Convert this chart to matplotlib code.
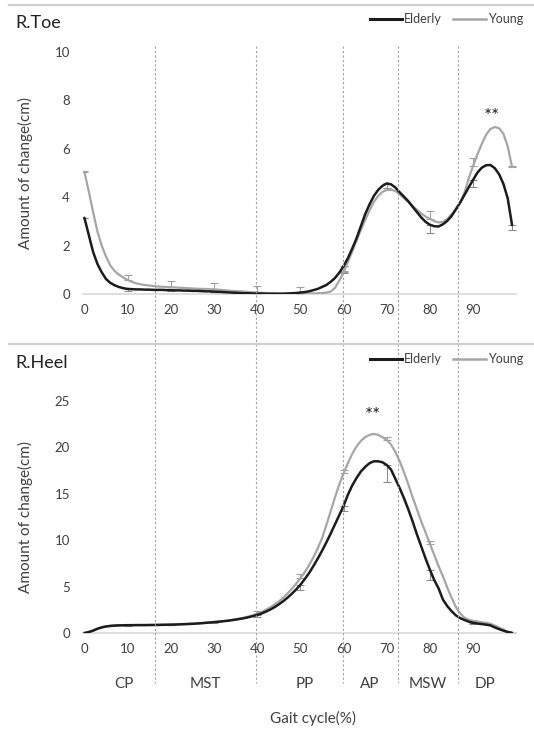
import numpy as np
import matplotlib
matplotlib.use("Agg")
import matplotlib.pyplot as plt
from matplotlib.lines import Line2D
from matplotlib.transforms import blended_transform_factory

plt.rcParams['font.family'] = ['Lato', 'DejaVu Sans']

# ---------------- data ----------------
gait_pct = list(range(100))
x_ticks = [0, 10, 20, 30, 40, 50, 60, 70, 80, 90]

toe_elderly = [
    3.15, 2.45, 1.75, 1.25, 0.90, 0.62, 0.46, 0.36, 0.29, 0.24,
    0.21, 0.20, 0.19, 0.19, 0.18, 0.18, 0.17, 0.17, 0.17, 0.16,
    0.16, 0.15, 0.15, 0.14, 0.14, 0.13, 0.13, 0.12, 0.11, 0.11,
    0.10, 0.09, 0.08, 0.07, 0.06, 0.05, 0.04, 0.03, 0.03, 0.02,
    0.02, 0.02, 0.01, 0.01, 0.01, 0.01, 0.01, 0.02, 0.03, 0.04,
    0.06, 0.08, 0.11, 0.16, 0.21, 0.29, 0.37, 0.50, 0.66, 0.88,
    1.15, 1.48, 1.88, 2.30, 2.80, 3.30, 3.70, 4.05, 4.30, 4.47,
    4.57, 4.53, 4.40, 4.20, 4.02, 3.83, 3.60, 3.38, 3.16, 2.98,
    2.86, 2.80, 2.79, 2.88, 3.02, 3.22, 3.50, 3.78, 4.10, 4.42,
    4.72, 5.02, 5.22, 5.32, 5.33, 5.20, 4.95, 4.55, 3.95, 2.85,
]
toe_young = [
    5.05, 4.25, 3.40, 2.60, 2.00, 1.55, 1.18, 0.95, 0.80, 0.68,
    0.58, 0.50, 0.44, 0.40, 0.37, 0.35, 0.33, 0.31, 0.30, 0.29,
    0.28, 0.27, 0.26, 0.25, 0.24, 0.23, 0.22, 0.21, 0.21, 0.20,
    0.19, 0.18, 0.16, 0.15, 0.13, 0.12, 0.11, 0.10, 0.08, 0.07,
    0.06, 0.05, 0.04, 0.03, 0.03, 0.02, 0.02, 0.02, 0.02, 0.02,
    0.02, 0.02, 0.02, 0.02, 0.03, 0.04, 0.06, 0.10, 0.25, 0.55,
    0.90, 1.32, 1.75, 2.20, 2.65, 3.05, 3.45, 3.80, 4.05, 4.22,
    4.30, 4.32, 4.25, 4.12, 3.95, 3.80, 3.63, 3.48, 3.33, 3.20,
    3.10, 3.01, 2.96, 2.98, 3.10, 3.30, 3.50, 3.78, 4.20, 4.80,
    5.30, 5.78, 6.20, 6.58, 6.82, 6.90, 6.85, 6.62, 6.10, 5.25,
]
heel_elderly = [
    0.00, 0.10, 0.25, 0.45, 0.60, 0.70, 0.76, 0.80, 0.82, 0.83,
    0.84, 0.84, 0.85, 0.85, 0.85, 0.86, 0.86, 0.87, 0.88, 0.89,
    0.90, 0.91, 0.93, 0.95, 0.97, 0.99, 1.02, 1.05, 1.09, 1.13,
    1.17, 1.21, 1.26, 1.31, 1.37, 1.44, 1.52, 1.60, 1.70, 1.82,
    1.95, 2.10, 2.30, 2.52, 2.78, 3.08, 3.42, 3.80, 4.22, 4.68,
    5.20, 5.80, 6.45, 7.20, 8.00, 8.85, 9.75, 10.70, 11.70, 12.70,
    13.70, 14.90, 15.90, 16.70, 17.40, 17.90, 18.30, 18.50, 18.50, 18.40,
    18.10, 17.60, 16.60, 15.60, 14.50, 13.30, 12.00, 10.60, 9.30, 8.00,
    6.80, 5.70, 4.80, 3.60, 2.90, 2.35, 1.90, 1.60, 1.40, 1.22,
    1.10, 1.02, 0.96, 0.90, 0.82, 0.60, 0.42, 0.25, 0.10, 0.02,
]
heel_young = [
    0.00, 0.12, 0.28, 0.47, 0.62, 0.72, 0.78, 0.81, 0.83, 0.84,
    0.85, 0.85, 0.86, 0.86, 0.86, 0.87, 0.87, 0.88, 0.89, 0.90,
    0.91, 0.92, 0.94, 0.96, 0.98, 1.00, 1.03, 1.06, 1.10, 1.14,
    1.18, 1.23, 1.28, 1.34, 1.40, 1.48, 1.56, 1.66, 1.78, 1.92,
    2.08, 2.27, 2.50, 2.76, 3.06, 3.40, 3.80, 4.25, 4.75, 5.30,
    5.90, 6.55, 7.30, 8.15, 9.10, 10.20, 11.60, 13.10, 14.60, 16.00,
    17.20, 18.30, 19.30, 20.10, 20.70, 21.10, 21.35, 21.45, 21.35, 21.10,
    20.80, 20.30, 19.50, 18.50, 17.30, 16.00, 14.60, 13.30, 12.00, 10.80,
    9.60, 8.40, 7.20, 6.10, 4.90, 3.80, 2.80, 2.10, 1.65, 1.42,
    1.30, 1.22, 1.16, 1.10, 1.00, 0.80, 0.58, 0.36, 0.15, 0.03,
]

err_idx = [0, 10, 20, 30, 40, 50, 60, 70, 80, 90, 99]
toe_young_err_up = [0.05, 0.20, 0.27, 0.25, 0.29, 0.28, 0.05, 0.10, 0.34, 0.30, 0.05]
toe_elderly_err_down = [0.0, 0.10, 0.05, 0.05, 0.02, 0.03, 0.30, 0.20, 0.33, 0.29, 0.22]
heel_young_err_up = [0.0, 0.10, 0.10, 0.15, 0.30, 0.46, 0.40, 0.30, 0.30, 0.10, 0.0]
heel_elderly_err_down = [0.0, 0.05, 0.05, 0.10, 0.20, 0.60, 0.60, 1.80, 1.10, 0.10, 0.0]

phase_bounds = [16.3, 39.8, 59.8, 72.7, 86.6]
phase_names = ['CP', 'MST', 'PP', 'AP', 'MSW', 'DP']
phase_label_x = [9.2, 28.0, 51.0, 66.0, 79.5, 92.8]

# ---------------- figure ----------------
W, H = 534, 738
fig = plt.figure(figsize=(W / 100, H / 100), dpi=100)

C_OLD = '#1c1c1c'
C_YOUNG = '#a6a6a6'
C_AXIS = '#d9d9d9'
C_TXT = '#404040'

x_left_px, x_right_px = 83.1, 515.5


def make_ax(top_px, bottom_px):
    return fig.add_axes([x_left_px / W, 1 - bottom_px / H,
                         (x_right_px - x_left_px) / W, (bottom_px - top_px) / H])


ax1 = make_ax(52, 294)
ax2 = make_ax(401, 633)

panels = [
    (ax1, toe_elderly, toe_young, toe_elderly_err_down, toe_young_err_up,
     [0, 2, 4, 6, 8, 10], (0, 10), 'R.Toe', 23, (94.4, 7.35)),
    (ax2, heel_elderly, heel_young, heel_elderly_err_down, heel_young_err_up,
     [0, 5, 10, 15, 20, 25], (0, 25), 'R.Heel', 363, (66.9, 23.4)),
]

for ax, eld, yng, e_down, y_up, yt, ylim, title, title_y, star in panels:
    eld = np.array(eld)
    yng = np.array(yng)
    xi = np.array(err_idx)
    # error bars
    ax.errorbar(xi, yng[xi], yerr=[np.zeros(len(xi)), y_up], fmt='none',
                ecolor='#a0a0a0', elinewidth=0.8, capsize=3.2, capthick=0.8, zorder=2)
    ax.errorbar(xi, eld[xi], yerr=[e_down, np.zeros(len(xi))], fmt='none',
                ecolor='#8c8c8c', elinewidth=0.8, capsize=3.2, capthick=0.8, zorder=2)
    ax.plot(gait_pct, yng, color=C_YOUNG, lw=1.6, zorder=3, solid_capstyle='round')
    ax.plot(gait_pct, eld, color=C_OLD, lw=1.8, zorder=4, solid_capstyle='round')

    ax.set_xlim(-0.3, 99.8)
    ax.set_ylim(*ylim)
    ax.set_xticks(x_ticks)
    ax.set_xticklabels([str(v) for v in x_ticks])
    ax.set_yticks(yt)
    ax.set_yticklabels([str(v) for v in yt])
    ax.tick_params(axis='both', length=0, labelsize=9.5, labelcolor=C_TXT)
    ax.tick_params(axis='x', pad=7.5)
    ax.tick_params(axis='y', pad=9.5)
    for s in ['top', 'right', 'left']:
        ax.spines[s].set_visible(False)
    ax.spines['bottom'].set_color(C_AXIS)
    ax.spines['bottom'].set_linewidth(1.2)
    ax.patch.set_alpha(0)

    bbox = ax.get_position()
    fig.text(25 / W, bbox.y0 + bbox.height / 2, 'Amount of change(cm)', rotation=90,
             ha='center', va='center', fontsize=11, color=C_TXT)

    ax.text(star[0], star[1], '**', ha='center', va='center', fontsize=13.5,
            color='#222222')

    fig.text(15 / W, 1 - title_y / H, title, ha='left', va='center',
             fontsize=13, color='#222222')

    # legend
    handles = [Line2D([], [], color=C_OLD, lw=2.2), Line2D([], [], color=C_YOUNG, lw=1.8)]
    fig.legend(handles, ['Elderly', 'Young'], loc='center right',
               bbox_to_anchor=(523 / W, 1 - (title_y - 4) / H), ncol=2,
               frameon=False, fontsize=9, handlelength=2.6, handletextpad=0.15,
               columnspacing=0.9, labelcolor=C_TXT, borderaxespad=0, borderpad=0)

# separator lines
for yp in [5, 343.5]:
    fig.add_artist(Line2D([8.5 / W, 1.0], [1 - yp / H, 1 - yp / H],
                          transform=fig.transFigure, color='#d0d0d0', lw=1.6))

# phase dotted lines spanning both panels
bt = blended_transform_factory(ax1.transData, fig.transFigure)
for b in phase_bounds:
    fig.add_artist(Line2D([b, b], [1 - 46 / H, 1 - 683 / H], transform=bt,
                          color='#a0a0a0', lw=0.8, linestyle=(0, (2, 2)), zorder=1))

for name, px in zip(phase_names, phase_label_x):
    fig.text(px, 1 - 684.5 / H, name, transform=bt, ha='center', va='center',
             fontsize=11, color=C_TXT)

fig.text(313.5 / W, 1 - 718 / H, 'Gait cycle(%)', ha='center', va='center',
         fontsize=11, color=C_TXT)

fig.savefig('out.png', dpi=100)
